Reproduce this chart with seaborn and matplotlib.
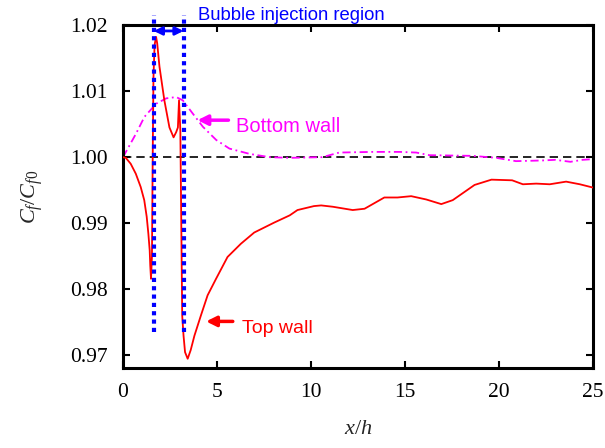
import matplotlib
matplotlib.use("Agg")
import matplotlib.pyplot as plt
import seaborn as sns
import pandas as pd

# ---- data ----
top_x = [0.00, 0.15, 0.41, 0.68, 0.94, 1.13, 1.26, 1.35, 1.42, 1.45, 1.49, 1.54, 1.58,
         1.62, 1.68, 1.76, 1.82, 1.94, 2.20, 2.47, 2.69, 2.83, 2.92, 2.98, 3.05, 3.10,
         3.15, 3.22, 3.30, 3.44, 3.60, 3.80, 4.15, 4.50, 4.95, 5.56, 6.27, 6.98, 8.04,
         8.87, 9.28, 10.16, 10.54, 11.16, 12.22, 12.85, 13.90, 14.60, 15.33, 16.13,
         16.93, 17.54, 18.70, 19.60, 20.70, 21.27, 21.98, 22.70, 23.57, 24.30, 25.00]
top_y = [1.0000, 0.9999, 0.9990, 0.9975, 0.9955, 0.9935, 0.9910, 0.9884, 0.9859, 0.9836,
         0.9816, 0.9850, 1.0000, 1.0120, 1.0170, 1.0182, 1.0172, 1.0137, 1.0086, 1.0045,
         1.0030, 1.0038, 1.0045, 1.0086, 1.0040, 0.9900, 0.9760, 0.9730, 0.9705, 0.9695,
         0.9708, 0.9730, 0.9761, 0.9791, 0.9816, 0.9849, 0.9869, 0.9886, 0.9901, 0.9912,
         0.9920, 0.9926, 0.9927, 0.9925, 0.9920, 0.9922, 0.9939, 0.9939, 0.9941, 0.9936,
         0.9929, 0.9935, 0.9958, 0.9966, 0.9965, 0.9959, 0.9960, 0.9959, 0.9963, 0.9959,
         0.9954]

bot_x = [0.00, 0.70, 1.14, 1.77, 2.30, 2.83, 3.18, 3.71, 4.25, 4.96, 5.66, 6.73, 7.80,
         8.86, 10.60, 11.50, 13.30, 14.70, 15.60, 16.30, 18.60, 19.85, 20.90, 22.30,
         23.00, 23.80, 24.45, 25.00]
bot_y = [1.0000, 1.0036, 1.0061, 1.0081, 1.0089, 1.0091, 1.0086, 1.0066, 1.0046, 1.0026,
         1.0013, 1.0005, 1.0000, 0.9999, 1.0000, 1.0007, 1.0008, 1.0008, 1.0007, 1.0003,
         1.0002, 0.9999, 0.9994, 0.9995, 0.9996, 0.9993, 0.9996, 0.9997]

inj_x = [1.64, 3.22]          # bubble injection region bounds
ref_level = 1.0
x_ticks = [0, 5, 10, 15, 20, 25]
y_ticks = [0.97, 0.98, 0.99, 1.00, 1.01, 1.02]

top_df = pd.DataFrame({"x": top_x, "y": top_y})
bot_df = pd.DataFrame({"x": bot_x, "y": bot_y})

sns.set_style("ticks")
plt.rcParams["font.family"] = ["Liberation Serif", "DejaVu Serif"]
plt.rcParams["mathtext.fontset"] = "custom"
plt.rcParams["mathtext.rm"] = "Liberation Serif"
plt.rcParams["mathtext.it"] = "Liberation Serif:italic"

fig = plt.figure(figsize=(6.05, 4.48), dpi=100)
ax = fig.add_axes([123 / 605, 1 - 368 / 448, (593 - 123) / 605, (368 - 25) / 448])

ax.axhline(ref_level, color="black", lw=1.2, ls=(0, (5, 3)), zorder=1)
sns.lineplot(data=bot_df, x="x", y="y", ax=ax, color="#ff00ff", lw=1.3,
             sort=False, estimator=None, zorder=2)
ax.lines[-1].set_linestyle((0, (4.5, 2, 1, 2)))
sns.lineplot(data=top_df, x="x", y="y", ax=ax, color="#ff0000", lw=1.3,
             sort=False, estimator=None, zorder=3)

for xv in inj_x:
    ax.plot([xv, xv], [0.9736, 1.0215], color="#0000ff", lw=3, ls=(0, (1, 1)),
            clip_on=False, zorder=4)

ax.annotate("", xy=(inj_x[0], 1.0191), xytext=(inj_x[1], 1.0191),
            arrowprops=dict(arrowstyle="<|-|>", color="#0000ff", lw=2,
                            mutation_scale=12, shrinkA=0, shrinkB=0))

sans = ["Liberation Sans", "DejaVu Sans"]
ax.text(4.01, 1.02083, "Bubble injection region", color="#0000ff", fontsize=13.3,
        family=sans, ha="left", va="baseline", clip_on=False)

ax.annotate("", xy=(3.96, 1.0056), xytext=(5.61, 1.0056),
            arrowprops=dict(arrowstyle="-|>", color="#ff00ff", lw=2.5,
                            mutation_scale=15, shrinkA=0, shrinkB=0))
ax.text(6.02, 1.00374, "Bottom wall", color="#ff00ff", fontsize=14.5,
        family=sans, ha="left", va="baseline")

ax.annotate("", xy=(4.42, 0.97515), xytext=(5.84, 0.97515),
            arrowprops=dict(arrowstyle="-|>", color="#ff0000", lw=2.5,
                            mutation_scale=15, shrinkA=0, shrinkB=0))
ax.text(6.34, 0.97344, "Top wall", color="#ff0000", fontsize=14,
        family=sans, ha="left", va="baseline")

ax.set_xlim(0, 25)
ax.set_ylim(0.9681, 1.02)
ax.set_xticks(x_ticks)
ax.set_xticklabels([str(t) for t in x_ticks])
ax.set_yticks(y_ticks)
ax.set_yticklabels([f"{t:.2f}" for t in y_ticks])
ax.tick_params(direction="in", length=5, width=1.5, top=True, right=True,
               labelsize=15.5, pad=11, colors="black")
for s in ax.spines.values():
    s.set_linewidth(2.2)
    s.set_color("black")

ax.set_xlabel("$x/h$", fontsize=16, labelpad=13)
ax.set_ylabel("$C_f/C_{f0}$", fontsize=16, labelpad=18)

fig.savefig("out.png", dpi=100)
